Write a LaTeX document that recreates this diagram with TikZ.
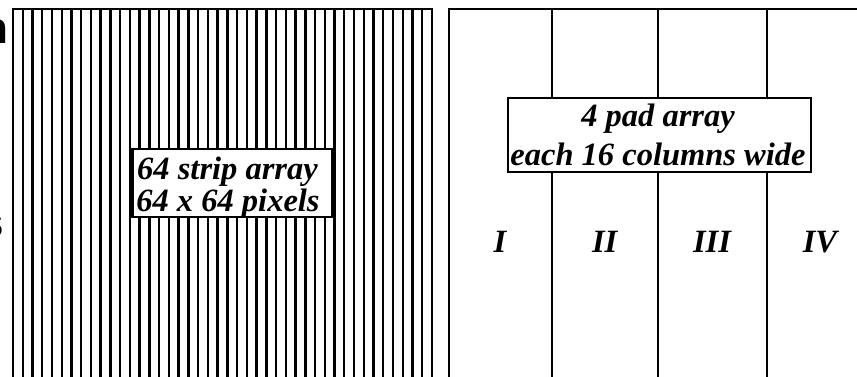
\documentclass[tikz,border=0pt]{standalone}
\usepackage{fontspec}
\setmainfont{Liberation Serif}
\newfontfamily\cutfont{Liberation Sans}

\begin{document}
\begin{tikzpicture}[x=1pt,y=-1pt,
  frame line/.style={line width=2.4pt,line cap=rect},
  label box/.style={draw,fill=white,line width=2.2pt,inner sep=0pt},
  label text/.style={anchor=base,inner sep=0pt,
    font=\fontsize{32.5}{33}\selectfont\bfseries\itshape},
  pad label/.style={font=\fontsize{32.5}{34}\selectfont\bfseries\itshape},
  cut letter/.style={font=\fontsize{44}{44}\selectfont\cutfont\bfseries,inner sep=0pt}]

  \useasboundingbox (0,0) rectangle (857,376);

  % strip side
  \draw[frame line] (13,9) -- (432,9);
  \foreach \k in {0,...,43}
    \draw[frame line] ({13+\k*9.744},9) -- ({13+\k*9.744},377);

  % pad side
  \draw[frame line] (449,377) -- (449,9) -- (858,9);
  \foreach \xp in {551.7,657.7,766.7}
    \draw[frame line] (\xp,9) -- (\xp,377);

  \node[label box,minimum width=200pt,minimum height=68pt] (stripbox) at (232.5,183) {};
  \node[label text] (stripline) at (227.5,179.3) {64 strip array};
  \node[label text] (pixelline) at (228,211.7) {64 x 64 pixels};

  \node[label box,minimum width=303pt,minimum height=74pt] (padbox) at (659.3,135) {};
  \node[label text] (padline) at (658,126.7) {4 pad array};
  \node[label text] (colline) at (658,165) {each 16 columns wide};

  \node[pad label] (padI) at (500,242) {I};
  \node[pad label] (padII) at (604.7,242) {II};
  \node[pad label] (padIII) at (712,242) {III};
  \node[pad label] (padIV) at (820,242) {IV};

  % letters cut off at the left edge
  \node[cut letter,anchor=base east] (cutn) at (8.5,43) {n};
  \node[cut letter,anchor=base east] (cuts) at (4.5,237) {s};
\end{tikzpicture}
\end{document}
